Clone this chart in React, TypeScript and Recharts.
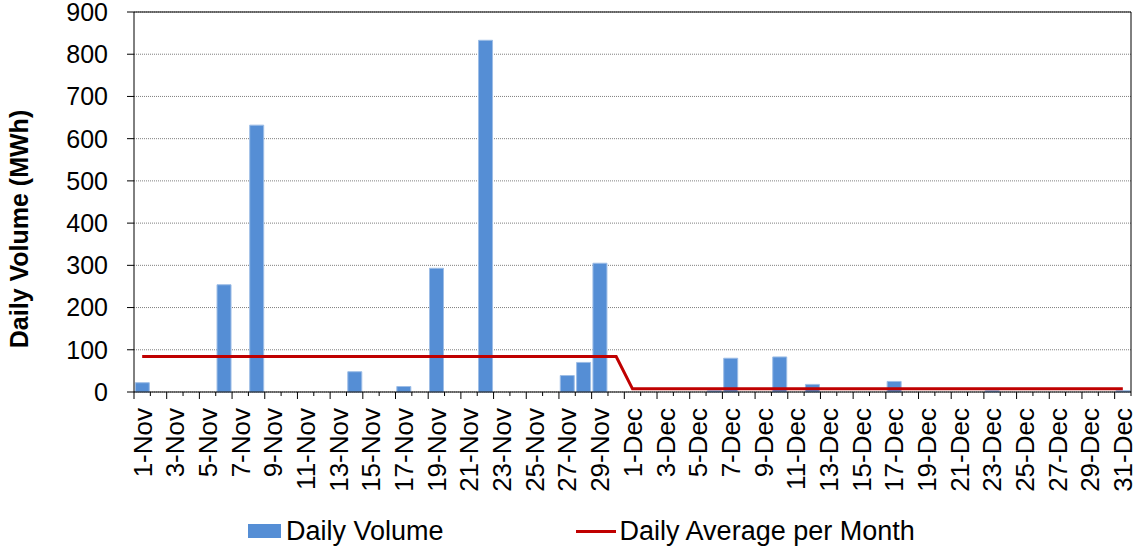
import { ComposedChart, Bar, Line, XAxis, YAxis, CartesianGrid, Legend, Label } from "recharts";

const FONT = "Arial, 'Liberation Sans', sans-serif";

const novDays = Array.from({ length: 30 }, (_, i) => `${i + 1}-Nov`);
const decDays = Array.from({ length: 31 }, (_, i) => `${i + 1}-Dec`);
const days = [...novDays, ...decDays];

// daily volume (MWh)
const novVolume = [
  22, 0, 0, 0, 0, 254, 0, 632, 0, 0,
  0, 0, 0, 48, 0, 0, 13, 0, 293, 0,
  0, 833, 0, 0, 0, 0, 39, 70, 305, 0,
];
const decVolume = [
  0, 0, 0, 0, 0, 3, 80, 0, 0, 83,
  0, 18, 0, 0, 0, 0, 25, 0, 0, 0,
  0, 0, 3, 0, 0, 0, 0, 0, 0, 0,
  3,
];
const volume = [...novVolume, ...decVolume];

// daily average per month
const novAverage = 84;
const decAverage = 7.5;
const average = [...novDays.map(() => novAverage), ...decDays.map(() => decAverage)];

const yTicks = [0, 100, 200, 300, 400, 500, 600, 700, 800, 900];

const data = days.map((day, i) => ({ day, volume: volume[i], average: average[i] }));

const XTick = (props: any) => {
  const { x, y, index, payload, visibleTicksCount } = props;
  const half = payload && payload.offset ? payload.offset : 8.17;
  const isMajor = index % 2 === 0;
  const last = index === (visibleTicksCount ?? days.length) - 1;
  return (
    <g>
      <line x1={x - half} x2={x - half} y1={y} y2={y + (isMajor ? 7 : 4)} stroke="#000" />
      {last && <line x1={x + half} x2={x + half} y1={y} y2={y + 4} stroke="#000" />}
      {isMajor && (
        <text
          x={x}
          y={y + 16}
          dy="0.36em"
          transform={`rotate(-90, ${x}, ${y + 16})`}
          textAnchor="end"
          fontSize={26}
          fontFamily={FONT}
          fill="#000"
        >
          {payload.value}
        </text>
      )}
    </g>
  );
};

const LegendContent = () => (
  <div
    style={{
      height: 39,
      boxSizing: "border-box",
      paddingTop: 9,
      paddingLeft: 248,
      display: "flex",
      alignItems: "center",
      fontFamily: FONT,
      fontSize: 27,
      color: "#000",
    }}
  >
    <span style={{ display: "inline-block", width: 33, height: 14, background: "#558ED5", marginRight: 5 }} />
    <span>Daily Volume</span>
    <span style={{ display: "inline-block", width: 40, height: 3, background: "#C00000", marginLeft: 132, marginRight: 4 }} />
    <span>Daily Average per Month</span>
  </div>
);

export default function App() {
  return (
    <div style={{ position: "absolute", left: 0, top: 0 }}>
      <ComposedChart
        width={1135}
        height={546}
        data={data}
        margin={{ top: 11, right: 3, left: 0, bottom: 0 }}
        barCategoryGap="8%"
      >
        <CartesianGrid vertical={false} stroke="#7f7f7f" strokeDasharray="1 1" />
        <XAxis
          dataKey="day"
          interval={0}
          height={115}
          tickSize={0}
          tickMargin={0}
          tick={<XTick />}
          axisLine={{ stroke: "#000" }}
        />
        <XAxis
          xAxisId="top"
          dataKey="day"
          orientation="top"
          height={1}
          tick={false}
          tickLine={false}
          axisLine={{ stroke: "#000" }}
        />
        <YAxis
          width={134}
          domain={[0, 900]}
          ticks={yTicks}
          interval={0}
          tickSize={7}
          tickMargin={19}
          tickLine={{ stroke: "#000" }}
          axisLine={{ stroke: "#000" }}
          tick={{ fontSize: 25, fontFamily: FONT, fill: "#000" }}
        >
          <Label
            content={() => (
              <text
                x={19}
                y={229}
                transform="rotate(-90, 19, 229)"
                textAnchor="middle"
                dominantBaseline="central"
                fontSize={25}
                fontWeight="bold"
                fontFamily={FONT}
                fill="#000"
              >
                Daily Volume (MWh)
              </text>
            )}
          />
        </YAxis>
        <YAxis
          yAxisId="right"
          orientation="right"
          width={1}
          domain={[0, 900]}
          tick={false}
          tickLine={false}
          axisLine={{ stroke: "#000" }}
        />
        <Legend verticalAlign="bottom" content={<LegendContent />} />
        <Bar
          dataKey="volume"
          name="Daily Volume"
          fill="#558ED5"
          stroke="#9DBDE6"
          strokeWidth={1}
          isAnimationActive={false}
        />
        <Line
          dataKey="average"
          name="Daily Average per Month"
          type="linear"
          stroke="#C00000"
          strokeWidth={3}
          dot={false}
          activeDot={false}
          isAnimationActive={false}
        />
      </ComposedChart>
    </div>
  );
}
